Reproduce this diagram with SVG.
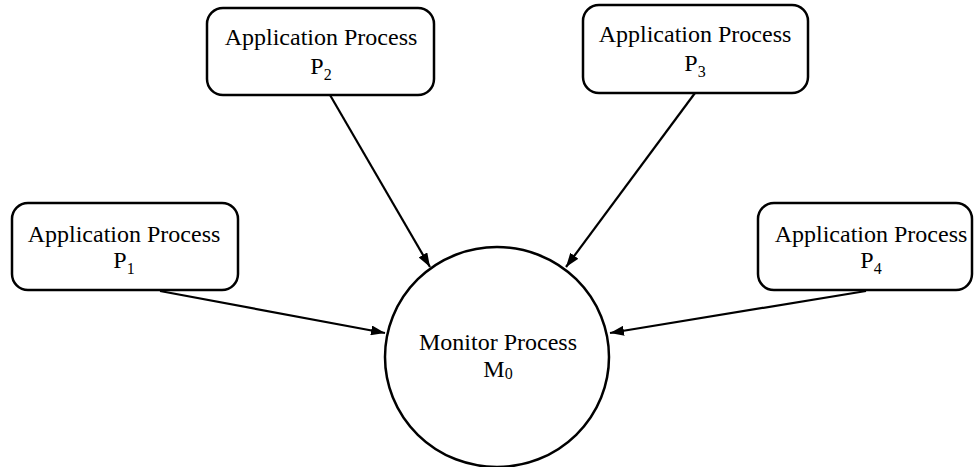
<svg xmlns="http://www.w3.org/2000/svg" width="974" height="467" viewBox="0 0 974 467">
<style>
.box{fill:#fff;stroke:#000;stroke-width:2.5}
.t{font-family:"Liberation Serif","Times New Roman",serif;font-size:24px;fill:#000;text-anchor:middle}
.sub{font-size:16px}
.edge{stroke:#000;stroke-width:2.2;fill:none;marker-end:url(#ah)}
</style>
<defs>
<marker id="ah" viewBox="0 0 14 10" refX="14" refY="5" markerWidth="14" markerHeight="10" markerUnits="userSpaceOnUse" orient="auto">
<path d="M0,0 L14,5 L0,10 Z" fill="#000"/>
</marker>
</defs>
<rect width="974" height="467" fill="#fff"/>
<g id="connectors">
<line class="edge" x1="160" y1="291" x2="385" y2="333"/>
<line class="edge" x1="330" y1="95" x2="430" y2="267"/>
<line class="edge" x1="695" y1="93" x2="566" y2="267"/>
<line class="edge" x1="866" y1="291" x2="610" y2="333"/>
</g>
<g id="P1">
<rect class="box" x="12" y="203" width="226" height="87" rx="16"/>
<text class="t" x="124" y="242">Application Process</text>
<text class="t" x="124" y="268">P<tspan class="sub" dy="6">1</tspan></text>
</g>
<g id="P2">
<rect class="box" x="207" y="8" width="227" height="87" rx="16"/>
<text class="t" x="321" y="45">Application Process</text>
<text class="t" x="321" y="74">P<tspan class="sub" dy="6">2</tspan></text>
</g>
<g id="P3">
<rect class="box" x="583" y="5" width="225" height="88" rx="16"/>
<text class="t" x="695" y="42">Application Process</text>
<text class="t" x="695" y="71">P<tspan class="sub" dy="6">3</tspan></text>
</g>
<g id="P4">
<rect class="box" x="758" y="203" width="214" height="87" rx="16"/>
<text class="t" x="871" y="242">Application Process</text>
<text class="t" x="871" y="268">P<tspan class="sub" dy="6">4</tspan></text>
</g>
<g id="M0">
<ellipse class="box" cx="497" cy="357" rx="112" ry="110"/>
<text class="t" x="498" y="350">Monitor Process</text>
<text class="t" x="498" y="377">M<tspan class="sub" dy="2">0</tspan></text>
</g>
</svg>
